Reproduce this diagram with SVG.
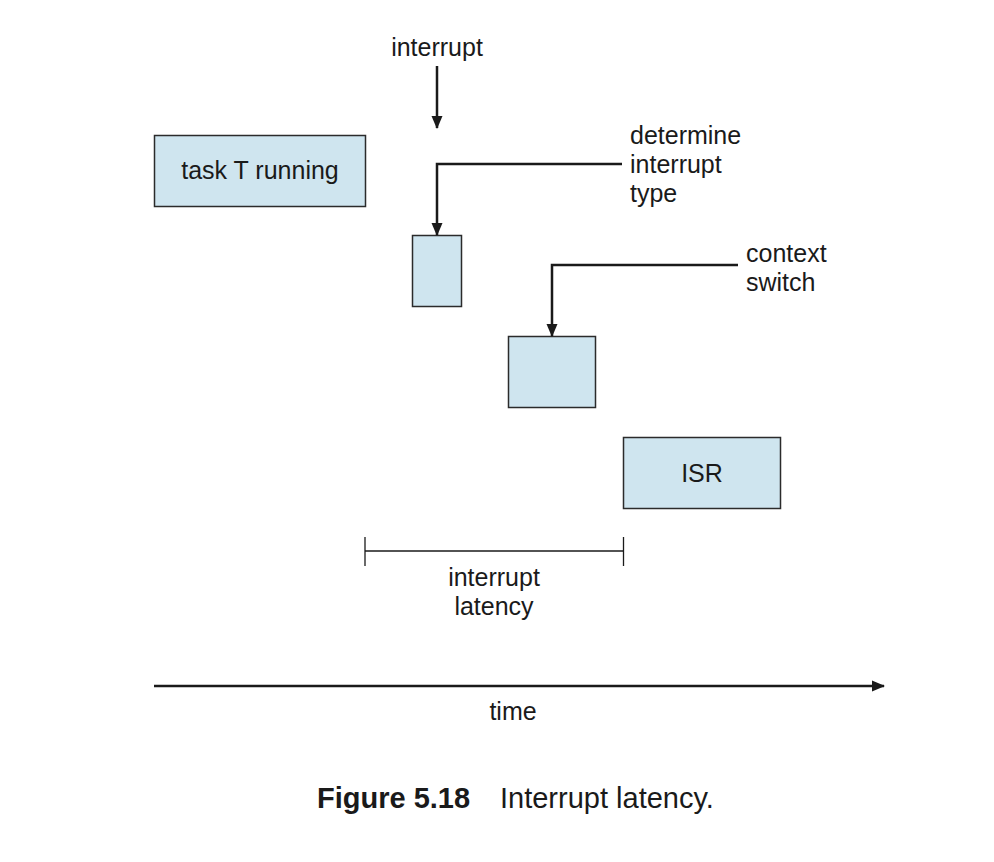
<svg xmlns="http://www.w3.org/2000/svg" width="994" height="862" viewBox="0 0 994 862">
<style>
  .box { fill: #cfe5ef; stroke: #2b2b2b; stroke-width: 1.5; }
  .lbl { font-family: "Liberation Sans", Arial, sans-serif; font-size: 25px; fill: #1a1a1a; }
  .line { fill: none; stroke: #1a1a1a; stroke-width: 2.5; }
  .thin { fill: none; stroke: #1a1a1a; stroke-width: 1.3; }
  .cap { font-family: "Liberation Sans", Arial, sans-serif; font-size: 29px; fill: #1a1a1a; }
</style>
<defs>
  <marker id="ah" markerWidth="13" markerHeight="12" refX="12" refY="6" orient="auto" markerUnits="userSpaceOnUse">
    <path d="M0,0.5 L13,6 L0,11.5 Z" fill="#1a1a1a"/>
  </marker>
</defs>
<rect width="994" height="862" fill="#ffffff"/>

<g id="task">
  <rect class="box" x="154.5" y="135.5" width="211" height="71"/>
  <text class="lbl" x="260" y="179" text-anchor="middle">task T running</text>
</g>
<g id="determine">
  <rect class="box" x="412.5" y="235.5" width="49" height="71"/>
</g>
<g id="context">
  <rect class="box" x="508.5" y="336.5" width="87" height="71"/>
</g>
<g id="isr">
  <rect class="box" x="623.5" y="437.5" width="157" height="71"/>
  <text class="lbl" x="702" y="482" text-anchor="middle">ISR</text>
</g>

<g id="labels">
  <text class="lbl" x="437" y="56" text-anchor="middle">interrupt</text>
  <text class="lbl" x="630" y="144">determine</text>
  <text class="lbl" x="630" y="173">interrupt</text>
  <text class="lbl" x="630" y="202">type</text>
  <text class="lbl" x="746" y="262">context</text>
  <text class="lbl" x="746" y="291">switch</text>
  <text class="lbl" x="494" y="586" text-anchor="middle">interrupt</text>
  <text class="lbl" x="494" y="615" text-anchor="middle">latency</text>
  <text class="lbl" x="513" y="720" text-anchor="middle">time</text>
</g>

<g id="connectors">
  <line class="line" x1="437" y1="66" x2="437" y2="128" marker-end="url(#ah)"/>
  <path class="line" d="M622,164 L437,164 L437,235" marker-end="url(#ah)"/>
  <path class="line" d="M738,265 L552,265 L552,336" marker-end="url(#ah)"/>
  <line class="line" x1="154" y1="686" x2="884" y2="686" marker-end="url(#ah)"/>
  <line class="thin" x1="365" y1="551" x2="623.5" y2="551"/>
  <line class="thin" x1="365" y1="537" x2="365" y2="566"/>
  <line class="thin" x1="623.5" y1="537" x2="623.5" y2="566"/>
</g>

<g id="caption">
  <text class="cap" x="317" y="808" font-weight="bold">Figure 5.18</text>
  <text class="cap" x="500" y="808">Interrupt latency.</text>
</g>
</svg>
